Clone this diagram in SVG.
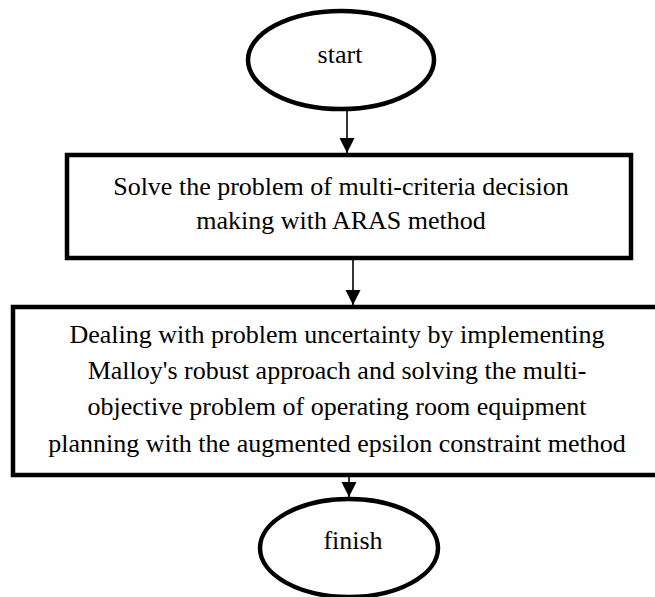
<svg xmlns="http://www.w3.org/2000/svg" width="655" height="597" viewBox="0 0 655 597">
<style>
.shape{fill:#fff;stroke:#000;stroke-width:4.5}
.txt{font-family:"Liberation Serif","Times New Roman",serif;font-size:26px;fill:#000;text-anchor:middle}
.conn{stroke:#000;stroke-width:1.6;fill:none}
</style>
<defs>
<marker id="arr" markerUnits="userSpaceOnUse" markerWidth="16" markerHeight="16" viewBox="0 0 16 16" refX="15" refY="8" orient="auto">
<path d="M0,0.5 L15,8 L0,15.5 Z" fill="#000"/>
</marker>
</defs>
<rect width="655" height="597" fill="#fff"/>
<g id="start">
<ellipse class="shape" cx="341" cy="60" rx="93" ry="49"/>
<text class="txt" x="340" y="63">start</text>
</g>
<g id="aras">
<rect class="shape" x="67" y="155" width="564" height="103"/>
<text class="txt" x="341" y="195">Solve the problem of multi-criteria decision</text>
<text class="txt" x="341" y="229">making with ARAS method</text>
</g>
<g id="robust">
<rect class="shape" x="13" y="307" width="660" height="168"/>
<text class="txt" x="337" y="343">Dealing with problem uncertainty by implementing</text>
<text class="txt" x="337" y="379">Malloy's robust approach and solving the multi-</text>
<text class="txt" x="337" y="415">objective problem of operating room equipment</text>
<text class="txt" x="337" y="452">planning with the augmented epsilon constraint method</text>
</g>
<g id="finish">
<ellipse class="shape" cx="349" cy="548" rx="89" ry="49"/>
<text class="txt" x="353" y="549">finish</text>
</g>
<g id="connectors">
<line class="conn" x1="347" y1="111" x2="347" y2="153" marker-end="url(#arr)"/>
<line class="conn" x1="353" y1="260" x2="353" y2="305" marker-end="url(#arr)"/>
<line class="conn" x1="349" y1="477" x2="349" y2="497" marker-end="url(#arr)"/>
</g>
</svg>
